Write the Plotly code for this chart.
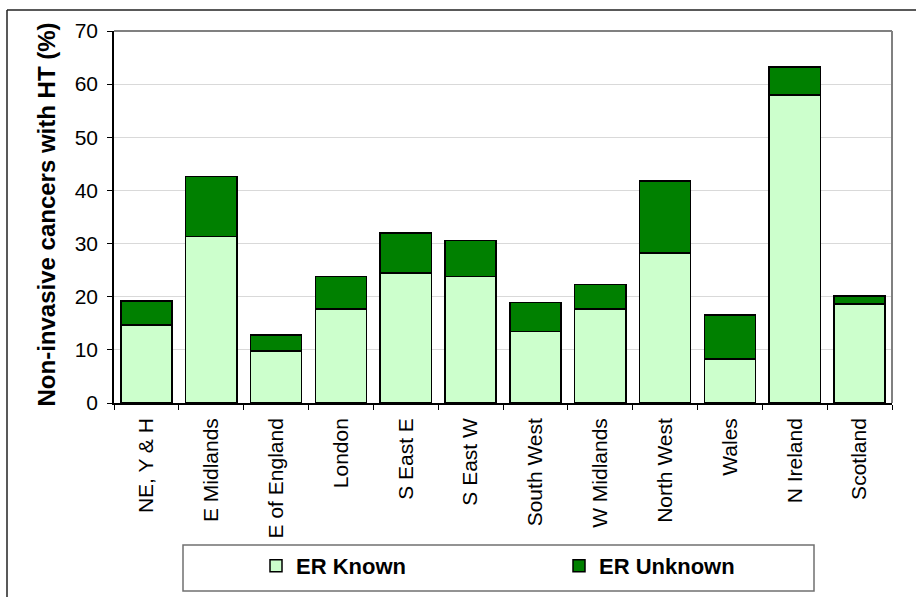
import plotly.graph_objects as go

regions = ["NE, Y & H", "E Midlands", "E of England", "London", "S East E", "S East W",
           "South West", "W Midlands", "North West", "Wales", "N Ireland", "Scotland"]
er_known = [14.7, 31.3, 9.8, 17.7, 24.5, 23.8, 13.5, 17.7, 28.2, 8.3, 58.0, 18.6]
er_total = [19.2, 42.6, 12.8, 23.8, 32.0, 30.6, 18.9, 22.3, 41.8, 16.6, 63.2, 20.1]
er_unknown = [round(t - k, 1) for t, k in zip(er_total, er_known)]
y_ticks = [0, 10, 20, 30, 40, 50, 60, 70]
y_title = "Non-invasive cancers with HT (%)"

W, H = 916, 597
L, R, T, B = 114, 892, 31, 403
FONT = "Liberation Sans, Arial, sans-serif"

def px(x):
    return (x - L) / (R - L)

def py(y):
    return (B - y) / (B - T)

fig = go.Figure()
fig.add_trace(go.Bar(x=regions, y=er_known, name="ER Known",
                     marker=dict(color="#CCFFCC", line=dict(color="black", width=1.5))))
fig.add_trace(go.Bar(x=regions, y=er_unknown, name="ER Unknown",
                     marker=dict(color="#008000", line=dict(color="black", width=1.5))))

fig.update_layout(
    width=W, height=H,
    margin=dict(l=L, r=W - R, t=T, b=H - B, autoexpand=False),
    barmode="stack", bargap=0.21,
    paper_bgcolor="white", plot_bgcolor="white",
    font=dict(family=FONT, size=21, color="black"),
    showlegend=True,
    legend=dict(orientation="h", x=px(256), y=py(566), xanchor="left", yanchor="middle",
                traceorder="normal",
                font=dict(size=22, family=FONT, weight="bold"),
                entrywidth=258, entrywidthmode="pixels",
                bgcolor="rgba(0,0,0,0)", borderwidth=0, itemclick=False),
    xaxis=dict(showline=True, linecolor="black", linewidth=1.5, ticks="outside",
               tickson="boundaries", ticklen=5, tickcolor="black", tickangle=-90,
               ticklabelstandoff=5,
               tickfont=dict(size=21, family=FONT), showgrid=False, automargin=False),
    yaxis=dict(range=[0, 70], tickvals=y_ticks, showline=True, linecolor="black",
               linewidth=1.5, ticks="outside", ticklen=5, tickcolor="black",
               ticklabelstandoff=5,
               gridcolor="#D9D9D9", gridwidth=1.2, zeroline=False,
               tickfont=dict(size=21, family=FONT), automargin=False),
    annotations=[
        dict(text="<b>" + y_title + "</b>", xref="paper", yref="paper",
             x=px(46), y=py(214.5), xanchor="center", yanchor="middle",
             textangle=-90, showarrow=False, font=dict(size=24, family=FONT, color="black")),
    ],
    shapes=[
        dict(type="line", xref="paper", yref="paper", x0=0, x1=1, y0=1, y1=1,
             line=dict(color="#808080", width=2)),
        dict(type="line", xref="paper", yref="paper", x0=1, x1=1, y0=0, y1=1,
             line=dict(color="#808080", width=2)),
        dict(type="rect", xref="paper", yref="paper", x0=px(183), x1=px(814),
             y0=py(591), y1=py(545), line=dict(color="#707070", width=1.5)),
        dict(type="line", xref="paper", yref="paper", x0=px(7), x1=px(7),
             y0=py(10), y1=py(610), line=dict(color="#222222", width=1.5)),
        dict(type="line", xref="paper", yref="paper", x0=px(7), x1=px(930),
             y0=py(10), y1=py(10), line=dict(color="#222222", width=1.5)),
    ],
)

fig.write_html("out.html", config={"displayModeBar": False},
               post_script="document.body.style.margin='0';")
